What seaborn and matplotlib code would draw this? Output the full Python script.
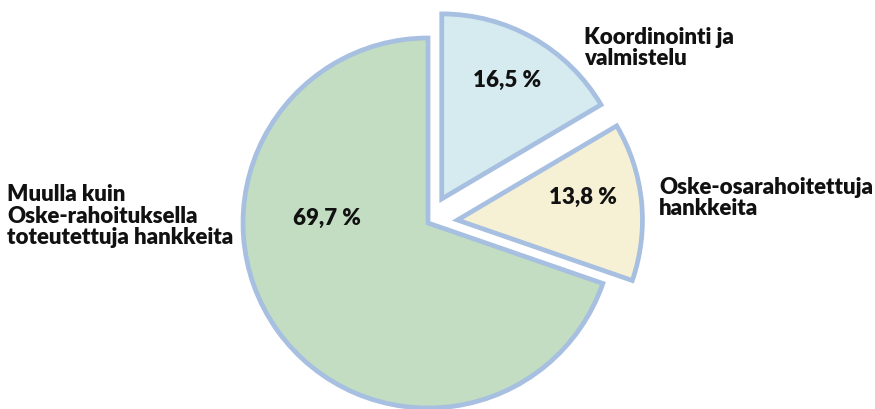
import matplotlib.pyplot as plt
import seaborn as sns

# data
labels = ['Koordinointi ja\nvalmistelu', 'Oske-osarahoitettuja\nhankkeita',
          'Muulla kuin\nOske-rahoituksella\ntoteutettuja hankkeita']
shares = [16.5, 13.8, 69.7]
pct_labels = ['16,5 %', '13,8 %', '69,7 %']
colors = ['#d5ebf0', '#f6f1d4', '#c2ddc1']
explode = [0.15, 0.16, 0.0]

sns.set_theme(style='white')
plt.rcParams['font.family'] = ['Lato', 'DejaVu Sans']

W, H = 875, 409
cx, cy, r = 428, 223, 185  # pie centre/radius in pixels


def px(x, y):
    return (x - cx) / r, (cy - y) / r


fig = plt.figure(figsize=(W / 100, H / 100), dpi=100)
ax = fig.add_axes([0, 0, 1, 1])
ax.pie(shares, colors=colors, explode=explode, startangle=90, counterclock=False,
       radius=1, wedgeprops=dict(edgecolor='#a7bfe0', linewidth=3.4, joinstyle='miter'))
ax.set_xlim(-cx / r, (W - cx) / r)
ax.set_ylim(-(H - cy) / r, cy / r)
ax.set_aspect('auto')
ax.axis('off')

fs = 16
# percentage labels
pct_pos = [(507, 80), (583, 197), (327, 218)]
for t, (x, y) in zip(pct_labels, pct_pos):
    ax.text(*px(x, y), t, ha='center', va='center', fontsize=fs, fontweight='heavy', color='#111111')

# category labels
lab_pos = [(584, 48), (659, 198), (7, 216)]
for t, (x, y) in zip(labels, lab_pos):
    ax.text(*px(x, y), t, ha='left', va='center', fontsize=fs, fontweight='heavy',
            color='#111111', linespacing=1.05)

fig.savefig('out.png', dpi=100)
